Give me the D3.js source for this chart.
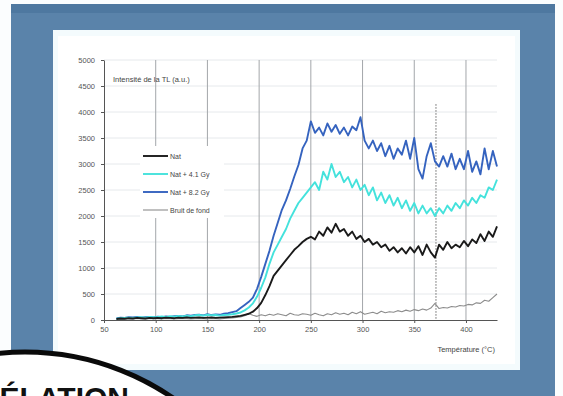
<!DOCTYPE html>
<html>
<head>
<meta charset="utf-8">
<script src="https://cdn.jsdelivr.net/npm/d3@7"></script>
<style>
  html, body { margin: 0; padding: 0; background: #fff; }
  svg { display: block; font-family: "Liberation Sans", Arial, sans-serif; }
</style>
</head>
<body>
<div id="chart"></div>
<script>
// temperatures (°C), one sample every 4 degrees
const temps = [62, 66, 70, 74, 78, 82, 86, 90, 94, 98, 102, 106, 110, 114, 118, 122, 126, 130, 134, 138,
  142, 146, 150, 154, 158, 162, 166, 170, 174, 178, 182, 186, 190, 194, 198, 202, 206, 210, 214, 218,
  222, 226, 230, 234, 238, 242, 246, 250, 254, 258, 262, 266, 270, 274, 278, 282, 286, 290, 294, 298,
  302, 306, 310, 314, 318, 322, 326, 330, 334, 338, 342, 346, 350, 354, 358, 362, 366, 370, 374, 378,
  382, 386, 390, 394, 398, 402, 406, 410, 414, 418, 422, 426, 430];

const natValues = [20, 30, 25, 35, 30, 40, 35, 30, 40, 35, 40, 35, 45, 40, 35, 45, 40, 50, 40, 45,
  50, 40, 45, 50, 40, 45, 50, 55, 60, 70, 80, 100, 120, 160, 230, 330, 480, 650, 850, 950,
  1050, 1150, 1250, 1350, 1420, 1500, 1560, 1600, 1550, 1700, 1620, 1780, 1680, 1850, 1700, 1750, 1620, 1700, 1560, 1620,
  1500, 1560, 1450, 1500, 1400, 1450, 1330, 1400, 1300, 1380, 1280, 1400, 1300, 1420, 1250, 1450, 1300, 1200, 1450, 1350,
  1500, 1380, 1450, 1400, 1520, 1420, 1550, 1480, 1650, 1520, 1700, 1600, 1800];

const nat41Values = [25, 35, 40, 45, 40, 50, 55, 45, 60, 55, 60, 70, 55, 75, 65, 80, 70, 85, 75, 90,
  95, 85, 100, 90, 95, 85, 95, 100, 110, 125, 145, 185, 240, 320, 450, 620, 820, 1080, 1300, 1450,
  1600, 1750, 1950, 2100, 2250, 2350, 2450, 2550, 2650, 2500, 2850, 2700, 3000, 2750, 2850, 2650, 2750, 2550, 2700, 2500,
  2600, 2400, 2550, 2300, 2450, 2250, 2400, 2200, 2350, 2150, 2300, 2100, 2250, 2050, 2200, 2050, 2150, 2000, 2150, 2050,
  2200, 2100, 2250, 2150, 2300, 2200, 2350, 2250, 2400, 2350, 2550, 2500, 2700];

const nat82Values = [30, 45, 40, 55, 50, 60, 45, 55, 60, 50, 65, 55, 70, 60, 75, 80, 70, 90, 85, 95,
  100, 90, 110, 95, 105, 100, 120, 130, 150, 170, 230, 290, 350, 430, 600, 830, 1080, 1330, 1620, 1870,
  2120, 2300, 2520, 2760, 2980, 3300, 3450, 3820, 3600, 3700, 3550, 3780, 3620, 3750, 3580, 3700, 3550, 3720, 3650, 3900,
  3450, 3300, 3450, 3250, 3400, 3150, 3350, 3100, 3300, 3180, 3450, 3100, 3500, 2900, 2720, 3150, 3400, 3050, 2950, 3150,
  2950, 3200, 2900, 3100, 2900, 3250, 2850, 3050, 2800, 3300, 2900, 3250, 2950];

const bruitValues = [20, 25, 20, 25, 20, 30, 25, 20, 25, 30, 25, 20, 30, 25, 20, 25, 30, 25, 20, 25,
  30, 25, 20, 30, 25, 20, 30, 35, 40, 50, 60, 80, 120, 90, 70, 100, 80, 110, 90, 120,
  100, 80, 130, 100, 90, 120, 110, 90, 130, 100, 80, 120, 100, 140, 110, 130, 100, 150, 120, 160,
  110, 130, 150, 120, 170, 140, 160, 150, 180, 160, 190, 170, 200, 180, 210, 190, 230, 320, 220, 240,
  230, 260, 250, 280, 270, 300, 290, 330, 320, 380, 360, 430, 500];

const seriesNames = ['Nat', 'Nat + 4.1 Gy', 'Nat + 8.2 Gy', 'Bruit de fond'];
const seriesColors = ['#1a1a1a', '#44e2dc', '#3563bf', '#8c8c8c'];
const seriesWidths = [1.9, 1.9, 1.9, 1.1];
const seriesData = [natValues, nat41Values, nat82Values, bruitValues];

const xTicks = [50, 100, 150, 200, 250, 300, 350, 400];
const yTicks = [0, 500, 1000, 1500, 2000, 2500, 3000, 3500, 4000, 4500, 5000];
const xGrid = [100, 150, 200, 250, 300, 350, 400];
const markerTemp = 371;

const W = 563, H = 396;
const svg = d3.select('#chart').append('svg').attr('width', W).attr('height', H);

// frame and panel
svg.append('rect').attr('x', 0).attr('y', 0).attr('width', W).attr('height', H).attr('fill', '#fbfdfe');
svg.append('rect').attr('x', 11).attr('y', 4).attr('width', 544).attr('height', 392).attr('fill', '#5a83aa');
svg.append('rect').attr('x', 11).attr('y', 4).attr('width', 544).attr('height', 9).attr('fill', '#4e78a0');
svg.append('rect').attr('x', 53).attr('y', 30).attr('width', 467).attr('height', 340).attr('fill', '#f4fbfd');
svg.append('rect').attr('x', 58).attr('y', 36).attr('width', 457).attr('height', 328).attr('fill', '#ffffff');

const x = d3.scaleLinear().domain([50, 430]).range([104, 497]);
const y = d3.scaleLinear().domain([0, 5000]).range([320, 60]);

const g = svg.append('g');

// horizontal grid
g.selectAll('.hgrid').data(yTicks.slice(1)).join('line')
  .attr('x1', x(50)).attr('x2', x(430))
  .attr('y1', d => y(d)).attr('y2', d => y(d))
  .attr('stroke', '#e6e9ec').attr('stroke-width', 1);

// vertical grid
g.selectAll('.vgrid').data(xGrid).join('line')
  .attr('x1', d => x(d)).attr('x2', d => x(d))
  .attr('y1', y(5000)).attr('y2', y(0))
  .attr('stroke', '#a3a6aa').attr('stroke-width', 1);

// dotted marker
g.append('line')
  .attr('x1', x(markerTemp)).attr('x2', x(markerTemp))
  .attr('y1', y(4150)).attr('y2', y(0))
  .attr('stroke', '#666').attr('stroke-width', 1).attr('stroke-dasharray', '1.5,1.5');

// axes
const yAxis = g.append('g').attr('transform', `translate(${x(50)},0)`)
  .call(d3.axisLeft(y).tickValues(yTicks).tickSize(3).tickSizeOuter(0).tickFormat(d3.format('d')));
const xAxis = g.append('g').attr('transform', `translate(0,${y(0)})`)
  .call(d3.axisBottom(x).tickValues(xTicks).tickSize(3).tickSizeOuter(0).tickFormat(d3.format('d')));
[yAxis, xAxis].forEach(a => {
  a.select('.domain').attr('stroke', '#555');
  a.selectAll('.tick line').attr('stroke', '#555');
  a.selectAll('.tick text').attr('fill', '#555').attr('font-size', 7.5)
    .attr('font-family', '"Liberation Sans", Arial, sans-serif');
});
yAxis.selectAll('.tick text').attr('x', -9);
xAxis.selectAll('.tick text').attr('y', 7);

// curves
const line = d3.line().x((d, i) => x(temps[i])).y(d => y(d));
const drawOrder = [3, 2, 1, 0];
drawOrder.forEach(k => {
  g.append('path').datum(seriesData[k])
    .attr('d', line)
    .attr('fill', 'none')
    .attr('stroke', seriesColors[k])
    .attr('stroke-width', seriesWidths[k])
    .attr('stroke-linejoin', 'round');
});

// axis titles
g.append('text').attr('x', 113).attr('y', 82).attr('font-size', 7.5).attr('fill', '#444')
  .text('Intensité de la TL (a.u.)');
g.append('text').attr('x', 495).attr('y', 352).attr('font-size', 7.5).attr('fill', '#444')
  .attr('text-anchor', 'end').text('Température (°C)');

// legend
const legend = g.append('g');
legend.append('rect').attr('x', 140).attr('y', 146).attr('width', 84).attr('height', 72).attr('fill', '#fff');
const legendY = [156, 174, 192, 210];
seriesNames.forEach((name, i) => {
  legend.append('line').attr('x1', 143).attr('x2', 168)
    .attr('y1', legendY[i]).attr('y2', legendY[i])
    .attr('stroke', seriesColors[i]).attr('stroke-width', seriesWidths[i]);
  legend.append('text').attr('x', 170).attr('y', legendY[i] + 2.5)
    .attr('font-size', 7).attr('fill', '#444').text(name);
});

// cut-off badge at bottom left
svg.append('circle').attr('cx', 25).attr('cy', 613).attr('r', 261)
  .attr('fill', '#ffffff').attr('stroke', '#0a0a0a').attr('stroke-width', 5);
svg.append('text').attr('x', 129).attr('y', 408).attr('text-anchor', 'end')
  .attr('font-size', 30).attr('font-weight', 'bold').attr('fill', '#111')
  .text('CORRÉLATION');
</script>
</body>
</html>
